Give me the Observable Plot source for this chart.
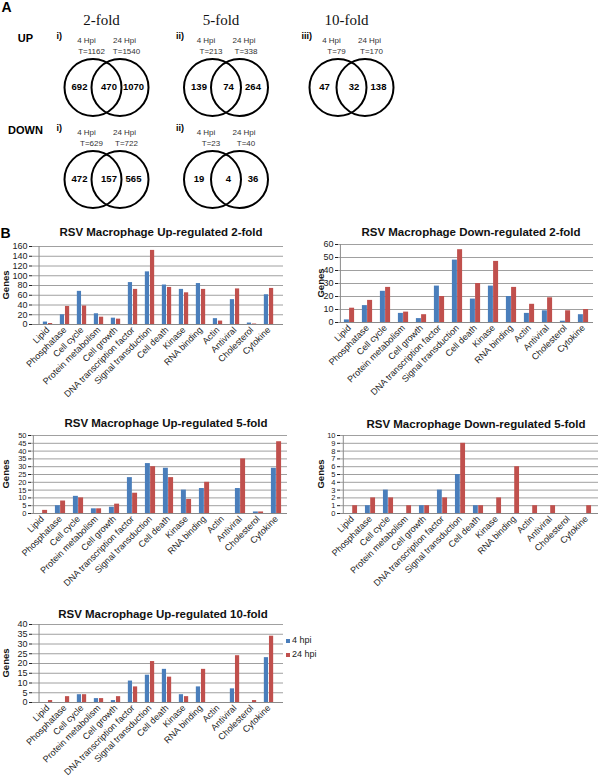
<!DOCTYPE html>
<html>
<head>
<meta charset="utf-8">
<script src="https://cdn.jsdelivr.net/npm/d3@7"></script>
<script src="https://cdn.jsdelivr.net/npm/@observablehq/plot@0.6"></script>
<style>
html, body { margin: 0; padding: 0; background: #fff; }
#root { position: relative; width: 600px; height: 783px; overflow: hidden; font-family: "Liberation Sans", Arial, sans-serif; }
#root svg { position: absolute; overflow: visible; }
.ctitle { position: absolute; font-weight: bold; font-size: 11.5px; white-space: nowrap; transform: translate(-50%, -50%); color: #111; }
.ylab { position: absolute; font-weight: bold; font-size: 9.5px; white-space: nowrap; transform: translate(-50%, -50%) rotate(-90deg); color: #111; }
.legend { position: absolute; font-size: 9px; color: #222; white-space: nowrap; }
.legend span.sw { display: inline-block; width: 4px; height: 4px; margin-right: 2px; vertical-align: middle; }
</style>
</head>
<body>
<div id="root"></div>
<script>
// ---------------- DATA ----------------
// Panel A: Venn diagrams
const vennRow     = ["UP", "UP", "UP", "DOWN", "DOWN"];
const vennFold    = ["2-fold", "5-fold", "10-fold", "2-fold", "5-fold"];
const vennTag     = ["i)", "ii)", "iii)", "i)", "ii)"];
const vennTotal4  = [1162, 213, 79, 629, 23];
const vennTotal24 = [1540, 338, 170, 722, 40];
const vennOnly4   = [692, 139, 47, 472, 19];
const vennBoth    = [470, 74, 32, 157, 4];
const vennOnly24  = [1070, 264, 138, 565, 36];
const vennColumns = ["2-fold", "5-fold", "10-fold"];
const vennRows    = ["UP", "DOWN"];

// Panel B: bar charts
const categories = ["Lipid", "Phosphatase", "Cell cycle", "Protein metabolism", "Cell growth",
  "DNA transcription factor", "Signal transduction", "Cell death", "Kinase", "RNA binding",
  "Actin", "Antiviral", "Cholesterol", "Cytokine"];
const seriesNames = ["4 hpi", "24 hpi"];

const up2fold_4hpi    = [5, 20, 68, 22, 13, 86, 108, 81, 72, 84, 12, 51, 3, 61];
const up2fold_24hpi   = [2, 37, 38, 15, 11, 72, 152, 76, 65, 72, 7, 73, 1, 74];
const down2fold_4hpi  = [2, 13, 24, 7, 3, 28, 48, 18, 28, 20, 7, 9, 1, 6];
const down2fold_24hpi = [11, 17, 27, 8, 6, 20, 56, 30, 47, 27, 14, 19, 9, 10];
const up5fold_4hpi    = [0, 5, 11, 3, 4, 23, 32, 29, 15, 16, 0, 16, 1, 29];
const up5fold_24hpi   = [2, 8, 10, 3, 6, 13, 30, 23, 9, 20, 0, 35, 1, 46];
const down5fold_4hpi  = [0, 1, 3, 0, 1, 3, 5, 1, 0, 0, 0, 0, 0, 0];
const down5fold_24hpi = [1, 2, 2, 1, 1, 2, 9, 1, 2, 6, 1, 1, 0, 1];
const up10fold_4hpi   = [0, 0, 4, 2, 1, 11, 14, 17, 4, 8, 0, 7, 0, 23];
const up10fold_24hpi  = [1, 3, 4, 2, 3, 8, 21, 13, 3, 17, 0, 24, 1, 34];

const ticksUp2   = [0, 20, 40, 60, 80, 100, 120, 140, 160];
const ticksDown2 = [0, 10, 20, 30, 40, 50, 60];
const ticksUp5   = [0, 5, 10, 15, 20, 25, 30, 35, 40, 45, 50];
const ticksDown5 = [0, 1, 2, 3, 4, 5, 6, 7, 8, 9, 10];
const ticksUp10  = [0, 5, 10, 15, 20, 25, 30, 35, 40];

const chartTitles = [
  "RSV Macrophage Up-regulated 2-fold",
  "RSV Macrophage Down-regulated 2-fold",
  "RSV Macrophage Up-regulated 5-fold",
  "RSV Macrophage Down-regulated 5-fold",
  "RSV Macrophage Up-regulated 10-fold"
];
const axisLabel = "Genes";

// ---------------- STYLE / LAYOUT ----------------
const colors = ["#4a7ebb", "#c0504d"];
const sans = "Liberation Sans, Arial, sans-serif";
const serif = "Liberation Serif, Times New Roman, serif";
const root = document.getElementById("root");

// Panel A layout
const foldX = {"2-fold": 106, "5-fold": 225.5, "10-fold": 351};
const rowY = {"UP": 87, "DOWN": 179};
const circleSep = 13.5, circleR = 28.5;

const venns = vennRow.map((r, i) => ({
  cx: foldX[vennFold[i]], cy: rowY[r], tag: vennTag[i],
  t4: vennTotal4[i], t24: vennTotal24[i], o4: vennOnly4[i], b: vennBoth[i], o24: vennOnly24[i]
}));
const circles = venns.flatMap(v => [{x: v.cx - circleSep, y: v.cy}, {x: v.cx + circleSep, y: v.cy}]);

const panelA = Plot.plot({
  width: 600, height: 245, margin: 0,
  x: {domain: [0, 600], range: [0, 600], axis: null},
  y: {domain: [0, 245], range: [0, 245], axis: null},
  style: {fontFamily: sans, background: "transparent"},
  marks: [
    Plot.text(["A"], {x: 1, y: 7, text: d => d, textAnchor: "start", fontSize: 14, fontWeight: "bold"}),
    Plot.text(["B"], {x: 0, y: 233, text: d => d, textAnchor: "start", fontSize: 14, fontWeight: "bold"}),
    Plot.text(vennColumns, {x: d => foldX[d] - 5, y: 19.5, text: d => d, fontFamily: serif, fontSize: 15, fill: "#111"}),
    Plot.text(vennRows, {x: 25, y: d => rowY[d] - 49.5, text: d => d, fontSize: 11, fontWeight: "bold"}),
    Plot.text(venns, {x: d => d.cx - 50, y: d => d.cy - 51.5, text: "tag", textAnchor: "start", fontSize: 9, fontWeight: "bold"}),
    Plot.dot(circles, {x: "x", y: "y", r: circleR, stroke: "#000", strokeWidth: 2, fill: "none"}),
    Plot.text(venns, {x: d => d.cx - 20, y: d => d.cy - 47, text: () => "4 Hpi", fontSize: 8, fill: "#333"}),
    Plot.text(venns, {x: d => d.cx - 15, y: d => d.cy - 36.5, text: d => "T=" + d.t4, fontSize: 8, fill: "#333"}),
    Plot.text(venns, {x: d => d.cx + 18, y: d => d.cy - 47, text: () => "24 Hpi", fontSize: 8, fill: "#333"}),
    Plot.text(venns, {x: d => d.cx + 20, y: d => d.cy - 36.5, text: d => "T=" + d.t24, fontSize: 8, fill: "#333"}),
    Plot.text(venns, {x: d => d.cx - 27, y: d => d.cy - 0.5, text: d => String(d.o4), fontSize: 9.5, fontWeight: "bold"}),
    Plot.text(venns, {x: d => d.cx + 2.5, y: d => d.cy - 0.5, text: d => String(d.b), fontSize: 9.5, fontWeight: "bold"}),
    Plot.text(venns, {x: d => d.cx + 27, y: d => d.cy - 0.5, text: d => String(d.o24), fontSize: 9.5, fontWeight: "bold"})
  ]
});
panelA.style.left = "0px"; panelA.style.top = "0px";
root.appendChild(panelA);

// Panel B layout
const chartSpecs = [
  {a: up2fold_4hpi,   b: up2fold_24hpi,   ticks: ticksUp2,   left: 32,  right: 283, top: 246, bottom: 324, titleX: 161, titleY: 232, genesX: 5,   svgLeft: 0},
  {a: down2fold_4hpi, b: down2fold_24hpi, ticks: ticksDown2, left: 338, right: 593, top: 244, bottom: 322, titleX: 471, titleY: 232, genesX: 320, svgLeft: 300},
  {a: up5fold_4hpi,   b: up5fold_24hpi,   ticks: ticksUp5,   left: 31,  right: 287, top: 435, bottom: 513, titleX: 166, titleY: 423, genesX: 5,   svgLeft: 0},
  {a: down5fold_4hpi, b: down5fold_24hpi, ticks: ticksDown5, left: 340, right: 598, top: 435, bottom: 513, titleX: 476, titleY: 424, genesX: 320, svgLeft: 300},
  {a: up10fold_4hpi,  b: up10fold_24hpi,  ticks: ticksUp10,  left: 32,  right: 283, top: 624, bottom: 702, titleX: 163, titleY: 614, genesX: 5,   svgLeft: 0}
];

chartSpecs.forEach((s, k) => {
  const width = 300, mt = 6, mb = 100;
  const height = (s.bottom - s.top) + mt + mb;
  const ml = s.left - s.svgLeft, mr = s.svgLeft + width - s.right;
  const bw = (s.right - s.left) / categories.length;
  const w = bw / 3.5;
  const rows = categories.map((c, i) => ({category: c, v4: s.a[i], v24: s.b[i]}));
  const ymax = s.ticks[s.ticks.length - 1];
  const spacing = (s.bottom - s.top) / (s.ticks.length - 1);
  const chart = Plot.plot({
    width, height, marginLeft: ml, marginRight: mr, marginTop: mt, marginBottom: mb,
    style: {fontFamily: sans, fontSize: "9px", color: "#222", background: "transparent", overflow: "visible"},
    x: {domain: categories, padding: 0, tickRotate: -45, tickSize: 0, tickPadding: 4, label: null},
    y: {domain: [0, ymax], ticks: s.ticks, tickSize: 3, tickPadding: 2, label: null},
    marks: [
      Plot.ruleY(s.ticks.slice(1), {stroke: "#a0a0a0", strokeWidth: 1}),
      Plot.barY(rows, {x: "category", y: "v4", fill: colors[0], insetLeft: bw / 2 - w, insetRight: bw / 2}),
      Plot.barY(rows, {x: "category", y: "v24", fill: colors[1], insetLeft: bw / 2, insetRight: bw / 2 - w}),
      Plot.ruleX([categories[0]], {dx: -bw / 2, y1: 0, y2: ymax, stroke: "#8a8a8a"}),
      Plot.ruleY([0], {stroke: "#8a8a8a"})
    ]
  });
  if (spacing < 9) {
    chart.querySelectorAll("[aria-label='y-axis tick label'] text, [aria-label='y-axis'] text").forEach(el => {
      el.style.fontSize = "7.5px";
    });
  }
  chart.style.left = s.svgLeft + "px";
  chart.style.top = (s.top - mt) + "px";
  root.appendChild(chart);

  const t = document.createElement("div");
  t.className = "ctitle";
  t.textContent = chartTitles[k];
  t.style.left = s.titleX + "px";
  t.style.top = s.titleY + "px";
  root.appendChild(t);

  const g = document.createElement("div");
  g.className = "ylab";
  g.textContent = axisLabel;
  g.style.left = s.genesX + "px";
  g.style.top = ((s.top + s.bottom) / 2) + "px";
  root.appendChild(g);
});

// Legend
seriesNames.forEach((name, i) => {
  const d = document.createElement("div");
  d.className = "legend";
  d.style.left = "286px";
  d.style.top = (635 + i * 14) + "px";
  d.innerHTML = `<span class="sw" style="background:${colors[i]}"></span>${name}`;
  root.appendChild(d);
});
</script>
</body>
</html>
